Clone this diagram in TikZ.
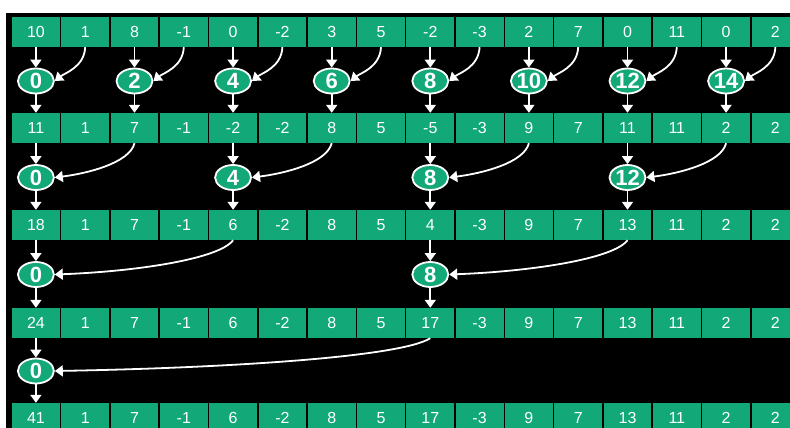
\documentclass[tikz,border=0pt]{standalone}
\usepackage{fontspec}
\setmainfont{Liberation Sans}
\usetikzlibrary{arrows.meta,shapes.geometric,calc}
\definecolor{cellgreen}{RGB}{18,168,120}
\newcommand\myarc[6]{\draw[arr] (#1.south) .. controls ($(#1.south)+(#3,#4)$) and ($(#2.east)+(#5,#6)$) .. (#2.east);}
\begin{document}
\begin{tikzpicture}[x=1pt,y=-1pt,
  cell/.style={rectangle,fill=cellgreen,draw=none,minimum width=47.8pt,minimum height=30pt,inner sep=0pt,text=white,font=\fontsize{16}{16}\selectfont},
  ell/.style={ellipse,fill=cellgreen,draw=white,line width=1.8pt,minimum width=36pt,minimum height=25pt,inner sep=0pt,text=white,font=\bfseries\fontsize{22}{22}\selectfont},
  arr/.style={draw=white,line width=1.8pt,-{Triangle[width=11pt,length=8pt]}}]
\useasboundingbox (0,0) rectangle (790,428);
\fill[white] (0,0) rectangle (790,428);
\fill[black] (6,13) rectangle (790,428);
\begin{scope}
\clip (0,0) rectangle (790,428);
% rows of cells
\foreach \v [count=\i from 0] in {10,1,8,-1,0,-2,3,5,-2,-3,2,7,0,11,0,2}
  \node[cell] (c1-\i) at ({35.9+49.3*\i},32) {\v};
\foreach \v [count=\i from 0] in {11,1,7,-1,-2,-2,8,5,-5,-3,9,7,11,11,2,2}
  \node[cell] (c2-\i) at ({35.9+49.3*\i},128) {\v};
\foreach \v [count=\i from 0] in {18,1,7,-1,6,-2,8,5,4,-3,9,7,13,11,2,2}
  \node[cell] (c3-\i) at ({35.9+49.3*\i},225) {\v};
\foreach \v [count=\i from 0] in {24,1,7,-1,6,-2,8,5,17,-3,9,7,13,11,2,2}
  \node[cell] (c4-\i) at ({35.9+49.3*\i},323) {\v};
\foreach \v [count=\i from 0] in {41,1,7,-1,6,-2,8,5,17,-3,9,7,13,11,2,2}
  \node[cell] (c5-\i) at ({35.9+49.3*\i},418) {\v};
% level 1
\foreach \i in {0,2,...,14}{
  \pgfmathtruncatemacro\j{\i+1}
  \node[ell] (e1-\i) at ({35.9+49.3*\i},81) {\i};
  \draw[arr] (c1-\i.south) -- (e1-\i.north);
  \draw[arr] (e1-\i.south) -- (c2-\i.north);
  \myarc{c1-\j}{e1-\i}{-1}{20}{10}{-8}
}
% level 2
\foreach \i in {0,4,8,12}{
  \pgfmathtruncatemacro\j{\i+2}
  \node[ell] (e2-\i) at ({35.9+49.3*\i},177.5) {\i};
  \draw[arr] (c2-\i.south) -- (e2-\i.north);
  \draw[arr] (e2-\i.south) -- (c3-\i.north);
  \myarc{c2-\j}{e2-\i}{-5}{20}{32}{-4}
}
% level 3
\foreach \i in {0,8}{
  \pgfmathtruncatemacro\j{\i+4}
  \node[ell] (e3-\i) at ({35.9+49.3*\i},274.5) {\i};
  \draw[arr] (c3-\i.south) -- (e3-\i.north);
  \draw[arr] (e3-\i.south) -- (c4-\i.north);
  \myarc{c3-\j}{e3-\i}{-14}{19}{80}{-3}
}
% level 4
\node[ell] (e4-0) at (35.9,371) {0};
\draw[arr] (c4-0.south) -- (e4-0.north);
\draw[arr] (e4-0.south) -- (c5-0.north);
\myarc{c4-8}{e4-0}{-30}{19}{170}{-3}
\end{scope}
\end{tikzpicture}
\end{document}
